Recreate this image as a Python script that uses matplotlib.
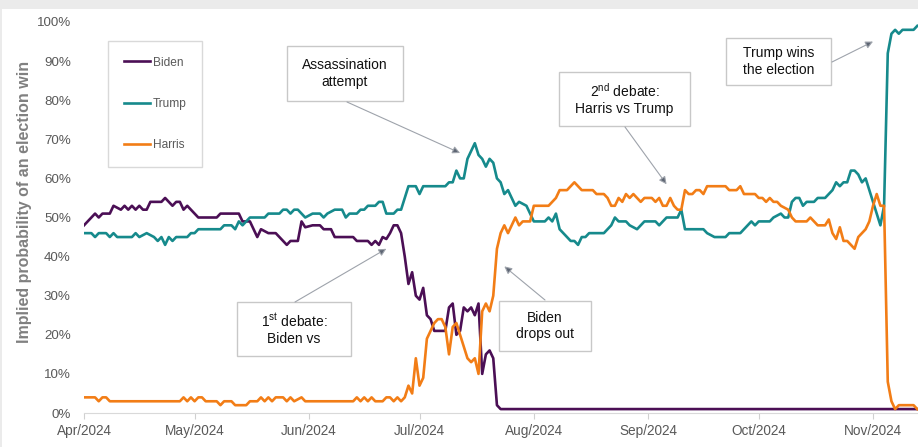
import matplotlib
matplotlib.use("Agg")
import matplotlib.pyplot as plt
import matplotlib.dates as mdates
from matplotlib.patches import Rectangle
import pandas as pd

plt.rcParams['font.family'] = ['Liberation Sans', 'DejaVu Sans']
plt.rcParams['mathtext.fontset'] = 'custom'
plt.rcParams['mathtext.rm'] = 'Liberation Sans'

# implied win probability (%), dates are 2024
biden_dates = ["04-01", "04-03", "04-04", "04-05", "04-06", "04-08", "04-09", "04-11", "04-12",
               "04-13", "04-14", "04-15", "04-16", "04-17", "04-18", "04-19", "04-22", "04-23",
               "04-24", "04-25", "04-26", "04-27", "04-28", "04-29", "04-30", "05-01", "05-02",
               "05-07", "05-08", "05-13", "05-14", "05-16", "05-18", "05-19", "05-21", "05-23",
               "05-24", "05-26", "05-27", "05-29", "05-30", "05-31", "06-02", "06-04", "06-05",
               "06-07", "06-08", "06-13", "06-14", "06-17", "06-18", "06-19", "06-20", "06-21",
               "06-22", "06-23", "06-24", "06-25", "06-26", "06-27", "06-28", "06-29", "06-30",
               "07-01", "07-02", "07-03", "07-04", "07-05", "07-08", "07-09", "07-10", "07-11",
               "07-12", "07-13", "07-14", "07-15", "07-16", "07-17", "07-18", "07-19", "07-20",
               "07-21", "07-22", "07-23", "11-13"]
biden_vals = [48, 50, 51, 50, 51, 51, 53, 52, 53,
              52, 53, 52, 53, 52, 52, 54, 54, 55,
              54, 53, 54, 54, 52, 53, 52, 51, 50,
              50, 51, 51, 49, 49, 45, 47, 46, 46,
              45, 43, 44, 44, 49, 47.5, 48, 48, 47,
              47, 45, 45, 44, 44, 43, 44, 43, 45,
              44.5, 46, 48, 48, 46, 40, 33, 36, 30,
              29, 32, 25, 24, 21, 21, 27, 28, 20,
              21, 27, 26, 27, 25, 28, 10, 15, 16,
              14, 2, 1, 1]

trump_dates = ["04-01", "04-03", "04-04", "04-05", "04-07", "04-08", "04-09", "04-10", "04-14",
               "04-15", "04-16", "04-18", "04-20", "04-21", "04-22", "04-23", "04-24", "04-25",
               "04-26", "04-29", "04-30", "05-01", "05-02", "05-08", "05-09", "05-11", "05-12",
               "05-13", "05-14", "05-16", "05-20", "05-21", "05-24", "05-25", "05-26", "05-27",
               "05-28", "05-29", "05-30", "05-31", "06-02", "06-04", "06-05", "06-06", "06-08",
               "06-10", "06-11", "06-12", "06-14", "06-15", "06-16", "06-17", "06-19", "06-20",
               "06-21", "06-22", "06-24", "06-25", "06-26", "06-28", "06-30", "07-01", "07-02",
               "07-08", "07-09", "07-10", "07-11", "07-12", "07-13", "07-14", "07-15", "07-16",
               "07-17", "07-18", "07-19", "07-20", "07-21", "07-22", "07-23", "07-24", "07-25",
               "07-26", "07-27", "07-28", "07-30", "07-31", "08-01", "08-04", "08-05", "08-06",
               "08-07", "08-08", "08-09", "08-10", "08-11", "08-12", "08-13", "08-14", "08-15",
               "08-16", "08-20", "08-22", "08-23", "08-24", "08-26", "08-27", "08-29", "08-30",
               "08-31", "09-03", "09-04", "09-05", "09-06", "09-08", "09-09", "09-10", "09-11",
               "09-16", "09-17", "09-19", "09-22", "09-23", "09-26", "09-27", "09-28", "09-29",
               "09-30", "10-01", "10-04", "10-05", "10-07", "10-08", "10-09", "10-10", "10-11",
               "10-12", "10-13", "10-14", "10-16", "10-17", "10-19", "10-20", "10-21", "10-22",
               "10-23", "10-24", "10-25", "10-26", "10-27", "10-28", "10-29", "10-30", "10-31",
               "11-01", "11-02", "11-03", "11-04", "11-05", "11-06", "11-07", "11-08", "11-09",
               "11-12", "11-13"]
trump_vals = [46, 46, 45, 46, 46, 45, 46, 45, 45,
              46, 45, 46, 45, 44, 45, 43, 45, 44,
              45, 45, 46, 46, 47, 47, 48, 48, 47,
              49, 48, 50, 50, 51, 51, 52, 52, 51,
              52, 52, 51, 50, 51, 51, 50, 51, 52,
              52, 50, 51, 51, 52, 52, 53, 53, 54,
              54, 51, 51, 52, 52, 58, 58, 56, 58,
              58, 59, 59, 62, 60, 60, 65, 67, 69,
              66, 65, 63, 65, 64, 60, 59, 56, 57,
              55, 53, 54, 53, 51, 49, 49, 50, 49,
              51, 47, 46, 45, 44, 44, 43, 45, 45,
              46, 46, 48, 50, 49, 49, 48, 47, 48,
              49, 49, 48, 49, 50, 50, 50, 52, 47,
              47, 46, 45, 45, 46, 46, 47, 48, 49,
              48, 49, 49, 50, 51, 50, 50, 54, 55,
              55, 53, 54, 54, 55, 55, 56, 57, 59,
              58, 59, 59, 62, 62, 61, 59, 60, 57,
              54, 51, 48, 53, 92, 97, 98, 97, 98,
              98, 99]

harris_dates = ["04-01", "04-04", "04-05", "04-06", "04-07", "04-08", "04-27", "04-28", "04-29",
                "04-30", "05-01", "05-02", "05-03", "05-04", "05-07", "05-08", "05-09", "05-11",
                "05-12", "05-15", "05-16", "05-18", "05-19", "05-20", "05-21", "05-22", "05-23",
                "05-25", "05-26", "05-27", "05-28", "05-30", "05-31", "06-13", "06-14", "06-15",
                "06-16", "06-17", "06-18", "06-19", "06-21", "06-22", "06-23", "06-24", "06-25",
                "06-26", "06-27", "06-28", "06-29", "06-30", "07-01", "07-02", "07-03", "07-04",
                "07-05", "07-06", "07-07", "07-08", "07-09", "07-10", "07-11", "07-12", "07-13",
                "07-14", "07-15", "07-16", "07-17", "07-18", "07-19", "07-20", "07-21", "07-22",
                "07-23", "07-24", "07-25", "07-26", "07-27", "07-28", "07-29", "07-31", "08-01",
                "08-02", "08-05", "08-06", "08-07", "08-08", "08-10", "08-11", "08-12", "08-13",
                "08-14", "08-17", "08-18", "08-20", "08-21", "08-22", "08-23", "08-24", "08-25",
                "08-26", "08-27", "08-28", "08-29", "08-30", "08-31", "09-02", "09-03", "09-04",
                "09-05", "09-06", "09-07", "09-08", "09-09", "09-10", "09-11", "09-12", "09-13",
                "09-14", "09-15", "09-16", "09-17", "09-22", "09-23", "09-25", "09-26", "09-27",
                "09-30", "10-01", "10-02", "10-03", "10-04", "10-05", "10-06", "10-07", "10-09",
                "10-10", "10-11", "10-14", "10-15", "10-16", "10-17", "10-19", "10-20", "10-21",
                "10-22", "10-23", "10-24", "10-25", "10-26", "10-27", "10-28", "10-29", "10-30",
                "10-31", "11-01", "11-02", "11-03", "11-04", "11-05", "11-06", "11-07", "11-08",
                "11-12", "11-13"]
harris_vals = [4, 4, 3, 4, 4, 3, 3, 4, 3,
               4, 3, 4, 4, 3, 3, 2, 3, 3,
               2, 2, 3, 3, 4, 3, 4, 3, 4,
               4, 3, 4, 3, 4, 3, 3, 4, 3,
               4, 3, 4, 3, 3, 4, 4, 3, 4,
               3, 4, 7, 5, 14, 7, 9, 19, 21,
               23, 24, 24, 22, 15, 22, 23, 20, 17,
               14, 13, 14, 10, 26, 28, 26, 30, 42,
               46, 48, 46, 48, 50, 48, 49, 49, 53,
               53, 53, 54, 55, 57, 57, 58, 59, 58,
               57, 57, 56, 56, 55, 53, 53, 55, 54,
               56, 55, 56, 55, 54, 55, 55, 54, 55,
               53, 53, 55, 53, 52, 52, 57, 56, 56,
               57, 57, 56, 58, 58, 57, 57, 58, 56,
               56, 55, 55, 54, 55, 54, 54, 53, 52,
               50, 49, 49, 50, 49, 48, 48, 49.5, 46,
               44.5, 47.5, 44, 44, 43, 42, 45, 46, 47,
               49, 53, 56, 53, 53, 8, 3, 1, 2,
               2, 1]

colors = {"Biden": "#4b0f55", "Trump": "#168a8c", "Harris": "#f27d16"}


def to_dates(days):
    return pd.to_datetime(["2024-" + d for d in days])


W, H = 918, 447
fig = plt.figure(figsize=(W / 100, H / 100), dpi=100)
fig.patches.append(Rectangle((0, 1 - 9 / H), 1, 9 / H, transform=fig.transFigure,
                             facecolor="#ebebeb", edgecolor="none", zorder=-1))
fig.patches.append(Rectangle((0, 0), 2 / W, 1, transform=fig.transFigure,
                             facecolor="#ebebeb", edgecolor="none", zorder=-1))

ax = fig.add_axes([84 / W, (H - 413) / H, (W - 84) / W, (413 - 22) / H])

ax.plot(to_dates(biden_dates), biden_vals, color=colors["Biden"], lw=1.9, label="Biden")
ax.plot(to_dates(trump_dates), trump_vals, color=colors["Trump"], lw=1.9, label="Trump")
ax.plot(to_dates(harris_dates), harris_vals, color=colors["Harris"], lw=1.9, label="Harris")

start = pd.Timestamp("2024-04-01")
ax.set_xlim(start, start + pd.Timedelta(days=226.2))
ax.set_ylim(0, 100)
ax.set_yticks(range(0, 101, 10))
ax.set_yticklabels([f"{v}%" for v in range(0, 101, 10)])
ax.xaxis.set_major_locator(mdates.MonthLocator())
ax.xaxis.set_major_formatter(mdates.DateFormatter("%b/%Y"))

for s in ["top", "right", "left"]:
    ax.spines[s].set_visible(False)
ax.spines["bottom"].set_color("#d9d9d9")
ax.tick_params(axis="y", length=0, pad=9.5, labelsize=9.6, labelcolor="#595959")
ax.tick_params(axis="x", length=4, color="#d0d0d0", pad=4, labelsize=9.8, labelcolor="#595959")

ax.set_ylabel("Implied probability of an election win", fontsize=11.5, fontweight="bold",
              color="#808080")
ax.yaxis.set_label_coords(-(84 - 32) / 834, 0.54)

leg = ax.legend(loc="upper left", bbox_to_anchor=((108 - 84) / 834, (413 - 41) / 391),
                borderaxespad=0, fontsize=8.6, labelspacing=2.45, handlelength=2.2,
                handletextpad=0.25, borderpad=1.3, fancybox=False, framealpha=1)
leg.get_frame().set_edgecolor("#d9d9d9")
leg.get_frame().set_linewidth(1)
for t in leg.get_texts():
    t.set_color("#595959")


def px(x, y):
    # pixel position in the picture -> axes fraction
    return ((x - 84) / 834, (413 - y) / 391)


notes = [
    ("Assassination\nattempt", (287, 46, 403, 101), (347, 102), ("2024-07-12", 66.5)),
    ("1$^{\\rm st}$ debate:\nBiden vs", (237, 302, 351, 356), (295, 302), ("2024-06-22", 42)),
    ("Biden\ndrops out", (499, 301, 591, 351), (545, 300), ("2024-07-24", 37.5)),
    ("2$^{\\rm nd}$ debate:\nHarris vs Trump", (559, 72, 690, 126), (625, 127), ("2024-09-06", 58.5)),
    ("Trump wins\nthe election", (726, 38, 831, 85), (832, 62), ("2024-11-01", 95)),
]
for text, (x0, y0, x1, y1), tail, (d, v) in notes:
    bx, by = px(x0, y1)
    ax.add_patch(Rectangle((bx, by), (x1 - x0) / 834, (y1 - y0) / 391, transform=ax.transAxes,
                           facecolor="white", edgecolor="#c8c8c8", lw=1, zorder=5, clip_on=False))
    ax.text(*px((x0 + x1) / 2, (y0 + y1) / 2), text, transform=ax.transAxes, ha="center",
            va="center", fontsize=10, color="#111111", linespacing=1.25, zorder=6)
    ax.annotate("", xy=(pd.Timestamp(d), v), xycoords="data", xytext=px(*tail),
                textcoords="axes fraction",
                arrowprops=dict(arrowstyle="-|>", edgecolor="#9ea3ab", facecolor="#5d6573",
                                lw=0.8, mutation_scale=11, shrinkA=0, shrinkB=0), zorder=6)

fig.savefig("out.png", dpi=100, facecolor="white")
